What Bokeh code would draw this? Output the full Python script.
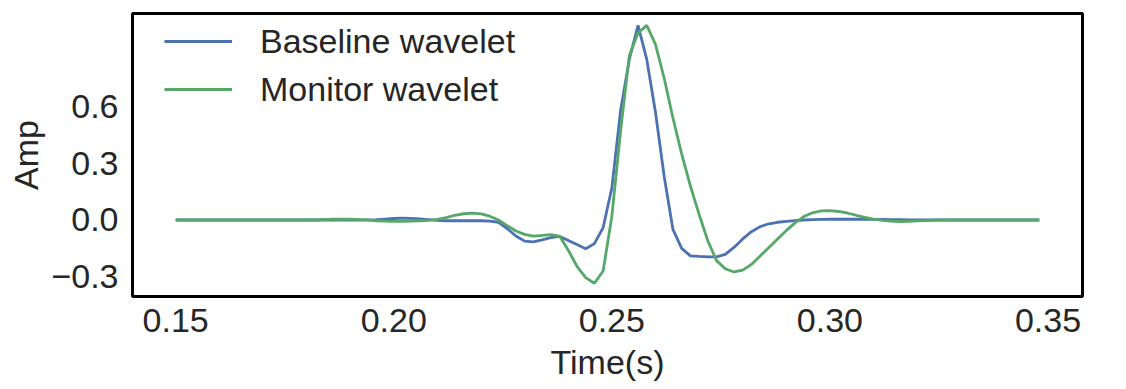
import numpy as np
from bokeh.plotting import figure
from bokeh.models import Range1d, FixedTicker, Legend, LegendItem
from bokeh.embed import file_html
from bokeh.resources import INLINE

# sampling of the wavelets (2 ms)
t_start = 0.150
t_step = 0.002

baseline = [
    0.0, 0.0, 0.0, 0.0, 0.0, 0.0, 0.0, 0.0, 0.0, 0.0,
    0.0, 0.0, 0.0, 0.0, 0.0, 0.0, 0.0, 0.0, 0.0, 0.0,
    0.0, 0.0, 0.001, 0.002, 0.005, 0.008, 0.010, 0.009, 0.006, 0.002,
    -0.002, -0.004, -0.004, -0.004, -0.004, -0.004, -0.006, -0.012, -0.045, -0.085,
    -0.112, -0.116, -0.105, -0.093, -0.087, -0.108, -0.130, -0.152, -0.125, -0.040,
    0.170, 0.580, 0.850, 1.030, 0.850, 0.570, 0.230, -0.050, -0.150, -0.190,
    -0.193, -0.195, -0.195, -0.182, -0.145, -0.100, -0.062, -0.035, -0.020, -0.012,
    -0.007, -0.003, 0.0, 0.002, 0.003, 0.004, 0.004, 0.004, 0.004, 0.003,
    0.003, 0.003, 0.002, 0.002, 0.001, 0.001, 0.0, 0.0, 0.0, 0.0,
    0.0, 0.0, 0.0, 0.0, 0.0, 0.0, 0.0, 0.0, 0.0, 0.0,
]

monitor = [
    0.0, 0.0, 0.0, 0.0, 0.0, 0.0, 0.0, 0.0, 0.0, 0.0,
    0.0, 0.0, 0.0, 0.0, 0.0, 0.0, 0.0, 0.002, 0.004, 0.005,
    0.004, 0.002, -0.001, -0.004, -0.006, -0.007, -0.007, -0.006, -0.004, -0.002,
    0.003, 0.013, 0.025, 0.033, 0.036, 0.032, 0.020, 0.0, -0.030, -0.058,
    -0.076, -0.085, -0.082, -0.077, -0.085, -0.160, -0.245, -0.305, -0.335, -0.270,
    0.020, 0.470, 0.870, 0.990, 1.030, 0.930, 0.750, 0.540, 0.350, 0.180,
    0.030, -0.110, -0.215, -0.258, -0.275, -0.265, -0.235, -0.190, -0.145, -0.100,
    -0.055, -0.015, 0.018, 0.038, 0.048, 0.050, 0.045, 0.037, 0.025, 0.014,
    0.005, -0.002, -0.006, -0.008, -0.007, -0.005, -0.003, -0.001, 0.0, 0.0,
    0.0, 0.0, 0.0, 0.0, 0.0, 0.0, 0.0, 0.0, 0.0, 0.0,
]

time = np.round(t_start + t_step * np.arange(len(baseline)), 3)

x_ticks = [0.15, 0.20, 0.25, 0.30, 0.35]
x_labels = ["0.15", "0.20", "0.25", "0.30", "0.35"]
y_ticks = [-0.3, 0.0, 0.3, 0.6]
y_labels = ["\u22120.3", "0.0", "0.3", "0.6"]

series_names = ["Baseline wavelet", "Monitor wavelet"]
series_colors = ["#4C72B0", "#55A868"]

FONT = "Liberation Sans"
TXT = "#262626"
FS = "34px"

p = figure(
    frame_width=950, frame_height=283,
    x_range=Range1d(0.1401, 0.3579), y_range=Range1d(-0.405, 1.093),
    output_backend="svg", toolbar_location=None,
    min_border_left=132, min_border_top=13, min_border_right=20, min_border_bottom=80,
    background_fill_color="white", border_fill_color="white",
)
p.xgrid.visible = False
p.ygrid.visible = False
p.outline_line_color = "black"
p.outline_line_width = 3
p.outline_line_alpha = 1.0

r1 = p.line(time, baseline, line_color=series_colors[0], line_width=2.8)
r2 = p.line(time, monitor, line_color=series_colors[1], line_width=2.8)

for ax in (p.xaxis[0], p.yaxis[0]):
    ax.axis_line_color = None
    ax.major_tick_line_color = None
    ax.minor_tick_line_color = None
    ax.major_tick_out = 0
    ax.major_tick_in = 0
    ax.minor_tick_out = 0
    ax.major_label_text_font = FONT
    ax.major_label_text_font_size = FS
    ax.major_label_text_color = TXT
    ax.axis_label_text_font = FONT
    ax.axis_label_text_font_size = FS
    ax.axis_label_text_color = TXT
    ax.axis_label_text_font_style = "normal"

p.xaxis.ticker = FixedTicker(ticks=x_ticks)
p.xaxis.major_label_overrides = dict(zip(x_ticks, x_labels))
p.yaxis.ticker = FixedTicker(ticks=y_ticks)
p.yaxis.major_label_overrides = dict(zip(y_ticks, y_labels))
p.xaxis.axis_label = "Time(s)"
p.yaxis.axis_label = "Amp"
p.xaxis.major_label_standoff = 12
p.xaxis.axis_label_standoff = 8
p.yaxis.major_label_standoff = 14
p.yaxis.axis_label_standoff = 3

legend = Legend(
    items=[LegendItem(label=series_names[0], renderers=[r1]),
           LegendItem(label=series_names[1], renderers=[r2])],
    location=(32, 187),
    padding=0, margin=0, spacing=8,
    glyph_width=68, glyph_height=40, label_height=40, label_standoff=28,
    label_text_font=FONT, label_text_font_size=FS, label_text_color=TXT,
    border_line_color=None, background_fill_alpha=0,
)
p.add_layout(legend)

open("out.html", "w").write(file_html(p, INLINE))
